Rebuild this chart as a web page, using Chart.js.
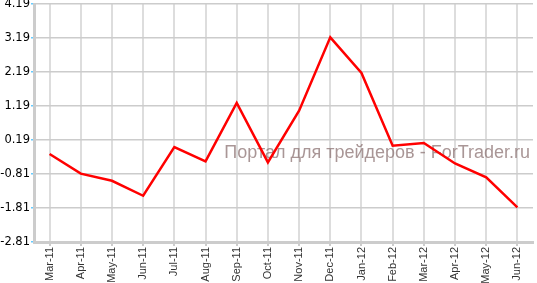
<!DOCTYPE html>
<html>
<head>
<meta charset="utf-8">
<script src="https://cdn.jsdelivr.net/npm/chart.js@4"></script>
<style>
  html, body { margin: 0; padding: 0; background: #fff; }
  #wrap { width: 537px; height: 283px; position: relative; }
</style>
</head>
<body>
<div id="wrap"><canvas id="chart"></canvas></div>
<script>
const months = ['Mar-11', 'Apr-11', 'May-11', 'Jun-11', 'Jul-11', 'Aug-11', 'Sep-11', 'Oct-11',
                'Nov-11', 'Dec-11', 'Jan-12', 'Feb-12', 'Mar-12', 'Apr-12', 'May-12', 'Jun-12'];
const values = [-0.22, -0.80, -1.01, -1.45, -0.02, -0.44, 1.28, -0.47,
                1.05, 3.21, 2.16, 0.02, 0.10, -0.50, -0.91, -1.79];
const yTicks = [-2.81, -1.81, -0.81, 0.19, 1.19, 2.19, 3.19, 4.19];
const watermark = 'Портал для трейдеров - ForTrader.ru';

// watermark sits under the line, grid shows through it
const watermarkPlugin = {
    id: 'watermark',
    beforeDatasetsDraw(chart) {
        const ctx = chart.ctx;
        ctx.save();
        ctx.font = '18px "Liberation Sans", Arial, sans-serif';
        ctx.fillStyle = 'rgba(140, 115, 115, 0.75)';
        ctx.textAlign = 'right';
        ctx.textBaseline = 'alphabetic';
        ctx.fillText(watermark, chart.chartArea.right - 3, 158);
        ctx.restore();
    }
};

new Chart(document.getElementById('chart'), {
    type: 'line',
    data: {
        labels: months,
        datasets: [{
            data: values,
            borderColor: '#ff0000',
            borderWidth: 2.5,
            pointRadius: 0,
            tension: 0,
            fill: false
        }]
    },
    options: {
        responsive: true,
        maintainAspectRatio: false,
        animation: false,
        layout: { padding: { top: 0, right: 4, left: 0, bottom: 0 } },
        plugins: { legend: { display: false }, tooltip: { enabled: false } },
        scales: {
            x: {
                offset: true,
                grid: { offset: false, color: '#dddddd', lineWidth: 2, tickLength: 4, tickColor: '#cccccc' },
                border: { color: '#cccccc', width: 3 },
                ticks: {
                    color: '#333',
                    font: { family: '"Liberation Sans", Arial, sans-serif', size: 11 },
                    minRotation: 90, maxRotation: 90, autoSkip: false, padding: 1
                },
                afterFit(scale) { scale.height = 41; }
            },
            y: {
                min: -2.81,
                max: 4.19,
                grid: { color: '#cccccc', lineWidth: 1.5, tickLength: 3, tickColor: '#66ccff' },
                border: { color: '#cccccc', width: 3 },
                afterBuildTicks(scale) { scale.ticks = yTicks.map(v => ({ value: v })); },
                ticks: {
                    color: '#000',
                    font: { family: '"DejaVu Sans", Verdana, sans-serif', size: 11.5 },
                    padding: 1,
                    callback: v => v.toFixed(2)
                },
                afterFit(scale) {
                    scale.width = 34;
                    scale.paddingTop = 4;
                    scale.paddingBottom = 0;
                }
            }
        }
    },
    plugins: [watermarkPlugin]
});
</script>
</body>
</html>
